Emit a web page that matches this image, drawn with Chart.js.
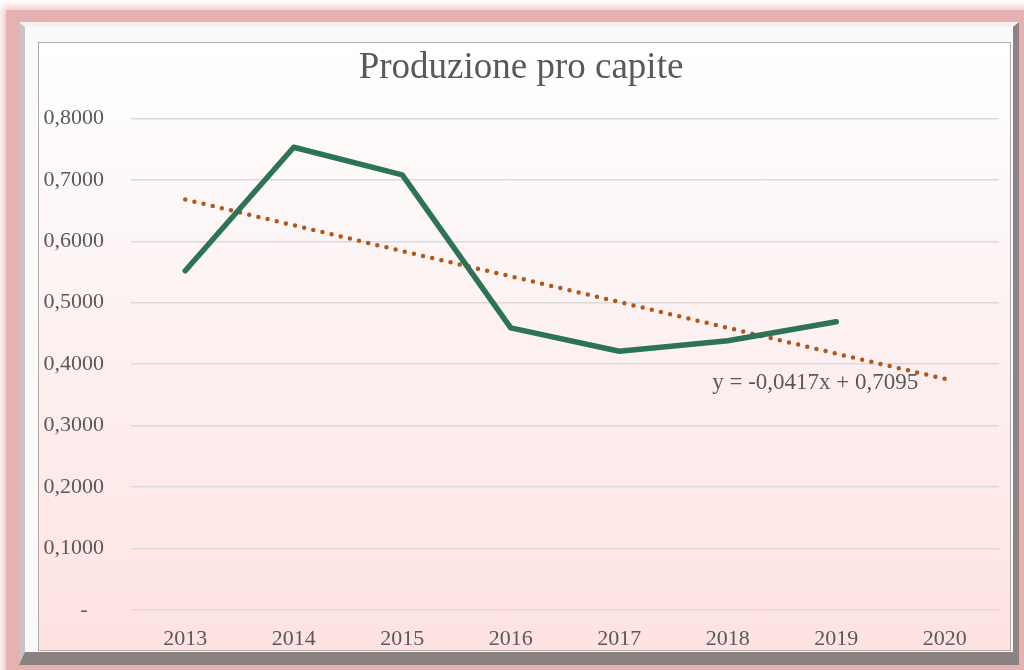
<!DOCTYPE html>
<html>
<head>
<meta charset="utf-8">
<script src="https://cdn.jsdelivr.net/npm/chart.js@4"></script>
<style>
  body { margin: 0; background: #fff; width: 1024px; height: 670px; overflow: hidden; position: relative; }
  .glow { position: absolute; left: 6px; top: 10px; width: 1040px; height: 680px; background: #e6b1b1; box-shadow: 0 0 8px 3px #eec2c2; }
  .frame { position: absolute; left: 19px; top: 22px; width: 988px; height: 625px;
    background: #fbfafa; border-style: solid; border-width: 5px 6px 13px 6px;
    border-color: #f4f2f2 #8d8384 #8c8081 #c9c3c3; }
  .plot { position: absolute; left: 38px; top: 42px; width: 971px; height: 607px;
    border: 1px solid #b3a8a8; background: linear-gradient(#ffffff 0%, #fdf2f2 45%, #ffe2e2 100%); }
  canvas { display: block; }
</style>
</head>
<body>
<div class="glow"></div>
<div class="frame"></div>
<div class="plot"><canvas id="chart" width="971" height="607"></canvas></div>
<script>
const years = ['2013', '2014', '2015', '2016', '2017', '2018', '2019', '2020'];
const produzione = [0.552, 0.753, 0.708, 0.459, 0.421, 0.438, 0.469, null];
// linear trend y = -0,0417x + 0,7095
const tendenza = [0.668, 0.626, 0.584, 0.543, 0.501, 0.459, 0.417, 0.376];
const equazione = 'y = -0,0417x + 0,7095';

const gray = '#595959';
const serif = '"Liberation Serif", "Times New Roman", serif';

const trendLabel = {
  id: 'trendLabel',
  afterDatasetsDraw(chart) {
    const { ctx, scales: { x, y } } = chart;
    ctx.save();
    ctx.font = '23px ' + serif;
    ctx.fillStyle = gray;
    ctx.textAlign = 'center';
    ctx.textBaseline = 'middle';
    ctx.fillText(equazione, x.getPixelForValue(6) - 21, y.getPixelForValue(0.37));
    ctx.restore();
  }
};

new Chart(document.getElementById('chart'), {
  type: 'line',
  data: {
    labels: years,
    datasets: [
      {
        label: 'Tendenza',
        data: tendenza,
        borderColor: '#b0581b',
        borderWidth: 4.5,
        borderDash: [0, 9.4],
        borderCapStyle: 'round',
        pointRadius: 0,
        tension: 0,
        order: 2
      },
      {
        label: 'Produzione pro capite',
        data: produzione,
        borderColor: '#2d7355',
        borderWidth: 5.5,
        borderCapStyle: 'round',
        borderJoinStyle: 'round',
        pointRadius: 0,
        tension: 0,
        order: 1
      }
    ]
  },
  options: {
    responsive: false,
    animation: false,
    layout: { padding: { left: 4, right: 11, top: 0, bottom: 0 } },
    plugins: {
      legend: { display: false },
      tooltip: { enabled: false },
      title: {
        display: true,
        text: 'Produzione pro capite',
        color: gray,
        font: { family: serif, size: 37, weight: 'normal', lineHeight: 1.2 },
        padding: { top: 3, bottom: 28 }
      }
    },
    scales: {
      x: {
        offset: true,
        grid: { display: false },
        border: { display: false },
        ticks: { color: gray, padding: 8, font: { family: serif, size: 22 } },
        afterFit: s => { s.height = 39; }
      },
      y: {
        min: 0,
        max: 0.8,
        grid: { color: '#d9d9d9', lineWidth: 1.5, drawTicks: false },
        border: { display: false },
        ticks: {
          stepSize: 0.1,
          padding: 27,
          color: gray,
          font: { family: serif, size: 22 },
          callback: v => v === 0 ? '-   ' : v.toFixed(4).replace('.', ',')
        },
        afterFit: s => { s.width = 88; }
      }
    }
  },
  plugins: [trendLabel]
});
</script>
</body>
</html>
